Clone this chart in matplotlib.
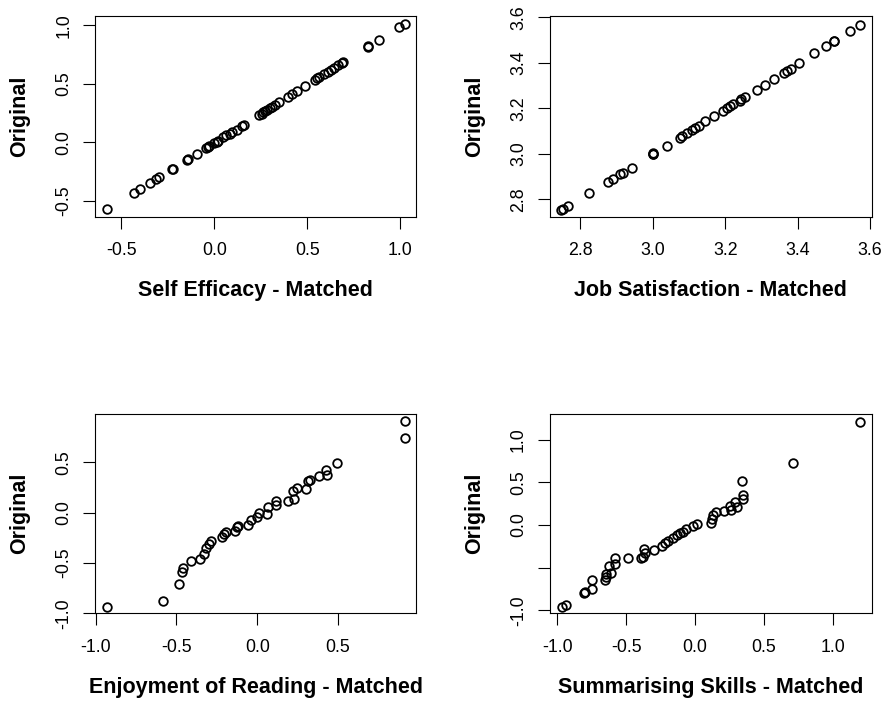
import matplotlib
matplotlib.use("Agg")
import matplotlib.pyplot as plt

plt.rcParams["font.family"] = ["Liberation Sans", "DejaVu Sans"]

# Panel 1 - Self Efficacy
se_matched = [-0.577, -0.434, -0.398, -0.348, -0.313, -0.298, -0.225, -0.222, -0.145, -0.142,
              -0.095, -0.046, -0.035, -0.029, 0.0, 0.0125, 0.02, 0.048, 0.066, 0.083, 0.096,
              0.12, 0.15, 0.159, 0.241, 0.255, 0.263, 0.275, 0.284, 0.3, 0.31, 0.325, 0.35,
              0.396, 0.42, 0.445, 0.486, 0.54, 0.555, 0.565, 0.59, 0.61, 0.63, 0.645, 0.665,
              0.69, 0.695, 0.825, 0.83, 0.884, 0.995, 1.027]
se_original = [-0.574, -0.437, -0.403, -0.351, -0.314, -0.300, -0.231, -0.226, -0.149, -0.143,
               -0.100, -0.051, -0.04, -0.03, -0.008, 0.005, 0.014, 0.043, 0.057, 0.071, 0.086,
               0.106, 0.14, 0.151, 0.234, 0.245, 0.255, 0.266, 0.277, 0.29, 0.3, 0.32, 0.34,
               0.386, 0.413, 0.44, 0.48, 0.529, 0.545, 0.555, 0.58, 0.6, 0.62, 0.635, 0.66,
               0.68, 0.686, 0.817, 0.822, 0.877, 0.986, 1.011]

# Panel 2 - Job Satisfaction
js_matched = [2.747, 2.751, 2.767, 2.825, 2.875, 2.891, 2.91, 2.918, 2.942, 3.0, 3.0, 3.001,
              3.039, 3.074, 3.08, 3.094, 3.108, 3.117, 3.129, 3.145, 3.168, 3.194, 3.205, 3.214,
              3.223, 3.24, 3.244, 3.255, 3.288, 3.311, 3.335, 3.363, 3.372, 3.382, 3.403, 3.446,
              3.478, 3.502, 3.502, 3.546, 3.573]
js_original = [2.752, 2.758, 2.769, 2.828, 2.876, 2.889, 2.91, 2.915, 2.939, 3.0, 3.0, 3.002,
               3.035, 3.07, 3.076, 3.09, 3.105, 3.114, 3.124, 3.143, 3.165, 3.19, 3.2, 3.21,
               3.22, 3.234, 3.24, 3.248, 3.282, 3.304, 3.328, 3.355, 3.362, 3.372, 3.397, 3.441,
               3.473, 3.496, 3.498, 3.54, 3.566]

# Panel 3 - Enjoyment of Reading
er_matched = [-0.93, -0.583, -0.486, -0.463, -0.459, -0.413, -0.355, -0.331, -0.314, -0.298,
              -0.287, -0.221, -0.207, -0.195, -0.138, -0.128, -0.118, -0.056, -0.041, -0.004,
              0.01, 0.058, 0.068, 0.116, 0.116, 0.192, 0.229, 0.223, 0.244, 0.302, 0.316,
              0.326, 0.384, 0.43, 0.426, 0.492, 0.915, 0.915]
er_original = [-0.934, -0.881, -0.706, -0.591, -0.548, -0.479, -0.465, -0.409, -0.35, -0.307,
               -0.284, -0.241, -0.208, -0.191, -0.185, -0.145, -0.129, -0.125, -0.069, -0.043,
               -0.003, -0.01, 0.056, 0.079, 0.112, 0.112, 0.135, 0.211, 0.244, 0.234, 0.31,
               0.326, 0.36, 0.376, 0.426, 0.492, 0.746, 0.911]

# Panel 4 - Summarising Skills
ss_matched = [-0.969, -0.937, -0.806, -0.8, -0.751, -0.751, -0.654, -0.646, -0.646, -0.613,
              -0.625, -0.581, -0.581, -0.484, -0.395, -0.38, -0.363, -0.37, -0.298, -0.242,
              -0.218, -0.194, -0.162, -0.128, -0.109, -0.085, -0.065, -0.012, 0.012, 0.114,
              0.121, 0.133, 0.153, 0.211, 0.259, 0.254, 0.291, 0.303, 0.346, 0.346, 0.339,
              0.714, 1.199]
ss_original = [-0.965, -0.934, -0.793, -0.785, -0.754, -0.645, -0.645, -0.605, -0.574, -0.566,
               -0.48, -0.457, -0.383, -0.39, -0.39, -0.371, -0.332, -0.285, -0.293, -0.246,
               -0.215, -0.184, -0.148, -0.117, -0.098, -0.078, -0.051, -0.012, 0.012, 0.02,
               0.066, 0.117, 0.156, 0.168, 0.176, 0.223, 0.273, 0.215, 0.301, 0.352, 0.516,
               0.723, 1.211]

panels = [
    (se_matched, se_original, "Self Efficacy - Matched",
     [-0.5, 0.0, 0.5, 1.0], ["-0.5", "0.0", "0.5", "1.0"],
     [-0.5, 0.0, 0.5, 1.0], ["-0.5", "0.0", "0.5", "1.0"],
     (-0.64, 1.087), (-0.638, 1.08)),
    (js_matched, js_original, "Job Satisfaction - Matched",
     [2.8, 3.0, 3.2, 3.4, 3.6], ["2.8", "3.0", "3.2", "3.4", "3.6"],
     [2.8, 3.0, 3.2, 3.4, 3.6], ["2.8", "3.0", "3.2", "3.4", "3.6"],
     (2.716, 3.605), (2.723, 3.606)),
    (er_matched, er_original, "Enjoyment of Reading - Matched",
     [-1.0, -0.5, 0.0, 0.5], ["-1.0", "-0.5", "0.0", "0.5"],
     [-1.0, -0.5, 0.0, 0.5], ["-1.0", "-0.5", "0.0", "0.5"],
     (-1.003, 0.985), (-0.997, 0.98)),
    (ss_matched, ss_original, "Summarising Skills - Matched",
     [-1.0, -0.5, 0.0, 0.5, 1.0], ["-1.0", "-0.5", "0.0", "0.5", "1.0"],
     [-1.0, -0.5, 0.0, 0.5, 1.0], ["-1.0", "", "0.0", "0.5", "1.0"],
     (-1.053, 1.283), (-1.035, 1.30)),
]

positions = [
    [0.1075, 0.6922, 0.3623, 0.2851],
    [0.6208, 0.6922, 0.3631, 0.2851],
    [0.1075, 0.1288, 0.3623, 0.2831],
    [0.6208, 0.1288, 0.3631, 0.2831],
]

fig = plt.figure(figsize=(8.86, 7.04), dpi=100)

for pos, (xs, ys, xlabel, xt, xtl, yt, ytl, xlim, ylim) in zip(positions, panels):
    ax = fig.add_axes(pos)
    ax.plot(xs, ys, linestyle="none", marker="o", markersize=6.2,
            markerfacecolor="none", markeredgecolor="black", markeredgewidth=1.3)
    ax.set_xlim(*xlim)
    ax.set_ylim(*ylim)
    ax.set_xticks(xt)
    ax.set_xticklabels(xtl)
    ax.set_yticks(yt)
    ax.set_yticklabels(ytl, rotation=90, va="center")
    ax.tick_params(length=8.5, width=0.8, labelsize=12.8, colors="black")
    ax.tick_params(axis="x", pad=10)
    ax.tick_params(axis="y", pad=8)
    for s in ax.spines.values():
        s.set_linewidth(0.8)
    ax.set_xlabel(xlabel, fontsize=15.5, fontweight="bold", labelpad=15)
    ax.set_ylabel("Original", fontsize=15.5, fontweight="bold", labelpad=18)

fig.savefig("out.png", dpi=100)
plt.close(fig)
